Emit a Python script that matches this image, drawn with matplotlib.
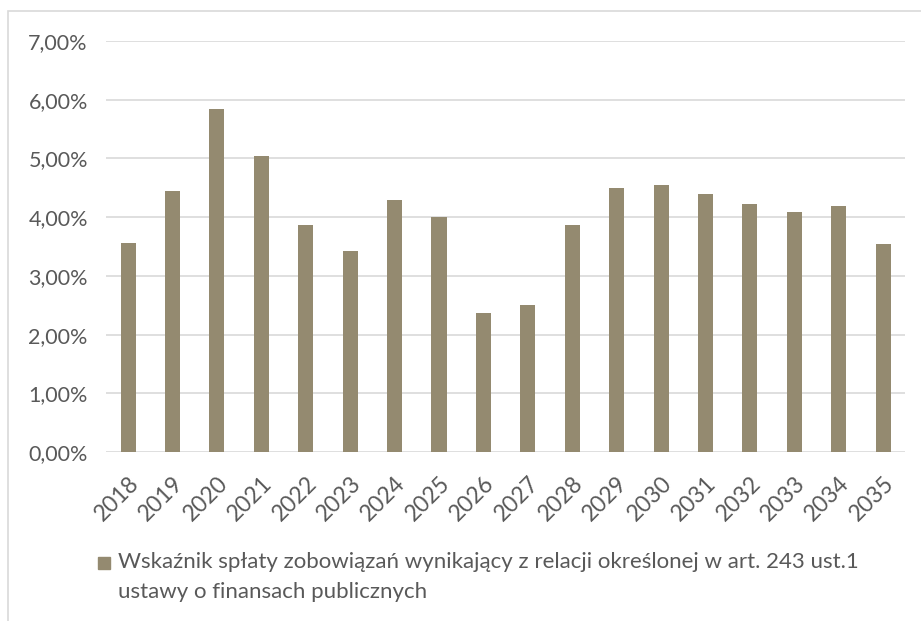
import matplotlib.pyplot as plt
from matplotlib.patches import Rectangle
from matplotlib.ticker import FuncFormatter

years = [str(y) for y in range(2018, 2036)]
values = [3.56, 4.44, 5.85, 5.04, 3.86, 3.42, 4.29, 4.00, 2.37,
          2.51, 3.87, 4.50, 4.55, 4.39, 4.23, 4.08, 4.19, 3.54]
legend_lines = ["Wskaźnik spłaty zobowiązań wynikający z relacji określonej w art. 243 ust.1",
                "ustawy o finansach publicznych"]

bar_color = '#948a70'
text_color = '#595959'
grid_color = '#d9d9d9'

plt.rcParams['font.family'] = ['Lato', 'DejaVu Sans']

fig = plt.figure(figsize=(9.21, 6.21), dpi=100)
ax = fig.add_axes([0.115, 0.272, 0.868, 0.662])

x = range(len(years))
ax.bar(x, values, width=0.34, color=bar_color, zorder=3)

ax.set_xlim(-0.5, len(years) - 0.5)
ax.set_ylim(0, 7)
ax.set_yticks(range(0, 8))
ax.yaxis.set_major_formatter(FuncFormatter(lambda v, p: f"{v:.2f}%".replace('.', ',')))
ax.grid(axis='y', color=grid_color, linewidth=1.2, zorder=0)
ax.set_xticks(list(x))
ax.set_xticklabels(years, rotation=45, ha='right', rotation_mode='anchor')
ax.tick_params(axis='y', length=0, labelsize=15.5, colors=text_color, pad=13)
ax.tick_params(axis='x', length=0, labelsize=16.5, colors=text_color, pad=15)
for s in ax.spines.values():
    s.set_visible(False)

# chart frame (partly outside the image)
fig.patches.append(Rectangle((8 / 921, -0.05), 1.0, 1 - 11 / 621 + 0.05,
                             transform=fig.transFigure, fill=False,
                             edgecolor='#d9d9d9', linewidth=1.2))

# legend
fig.patches.append(Rectangle((98 / 921, 1 - 569 / 621), 12 / 921, 12 / 621,
                             transform=fig.transFigure, color=bar_color))
for i, line in enumerate(legend_lines):
    fig.text(118 / 921, 1 - (568 + 30 * i) / 621, line, fontsize=16,
             color=text_color, va='baseline')

fig.savefig('out.png', dpi=100)
